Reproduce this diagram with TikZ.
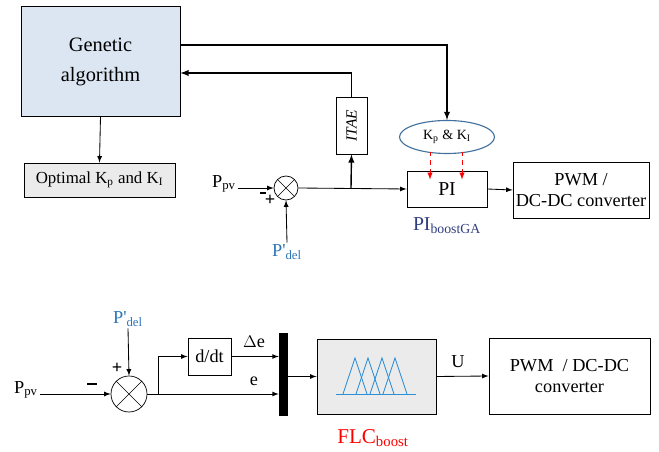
\documentclass[tikz,border=0pt]{standalone}
\usepackage{fontspec}
\setmainfont{Liberation Serif}
\usetikzlibrary{shapes,arrows,positioning,calc}
\definecolor{gafill}{HTML}{DCE6F2}
\definecolor{boxgray}{HTML}{EBEBEB}
\definecolor{ellblue}{HTML}{41719C}
\definecolor{delblue}{HTML}{2E75B6}
\definecolor{pinavy}{HTML}{2F3E7E}
\definecolor{fuzzblue}{HTML}{2E8FD8}

\begin{document}
\begin{tikzpicture}[
    x=0.025cm, y=-0.025cm,
    blk/.style={rectangle, draw, line width=0.6pt, inner sep=0pt, align=center, font=\fontsize{13}{15}\selectfont},
    sumnode/.style={circle, draw, line width=0.5pt, inner sep=0pt},
    lbl/.style={inner sep=1pt, font=\fontsize{13}{15}\selectfont},
    sign/.style={inner sep=0pt, font=\bfseries\fontsize{13}{13}\selectfont},
    arrow/.style={->, >=latex, line width=0.6pt},
    thickarrow/.style={->, >=latex, line width=1pt},
    gain/.style={->, >=latex, red, dashed, line width=0.7pt}
]
\useasboundingbox (0,0) rectangle (659,452);

% upper diagram: PI tuned by the genetic algorithm
\node[blk, fill=gafill, minimum width=3.975cm, minimum height=2.75cm, font=\fontsize{14.5}{20}\selectfont] (ga) at (100.5,61) {\raisebox{5pt}{\begin{tabular}{@{}c@{}}Genetic\\[1pt]algorithm\end{tabular}}};
\node[blk, fill=boxgray, minimum width=3.775cm, minimum height=0.85cm, font=\fontsize{12}{14}\selectfont] (opt) at (99.5,180) {Optimal K\textsubscript{p} and K\textsubscript{I}};
\node[blk, minimum width=0.775cm, minimum height=1.425cm] (itae) at (351.5,125.5) {\rotatebox{90}{\itshape\fontsize{11}{13}\selectfont ITAE}};
\node[sumnode, minimum size=0.6cm] (s1) at (286,188) {};
\node[blk, minimum width=2cm, minimum height=0.9cm, font=\fontsize{14}{16}\selectfont] (pi) at (447,189) {PI};
\node[ellipse, draw=ellblue, line width=0.8pt, minimum width=2.375cm, minimum height=0.825cm, inner sep=0pt, font=\fontsize{10}{12}\selectfont] (kk) at (447,137) {K\textsubscript{p} \& K\textsubscript{I}};
\node[blk, minimum width=3.4cm, minimum height=1.4cm] (pwm1) at (581,190) {PWM /\\DC-DC converter};
\node[lbl] (ppv1) at (224,184) {P\textsubscript{pv}};
\node[lbl, text=delblue] (pdel1) at (287,252) {P\textquotesingle\textsubscript{del}};
\node[sign] (minus1) at (263,193) {\rule{4pt}{1.2pt}};
\node[sign] (plus1) at (270,200) {+};
\node[lbl, text=pinavy, font=\fontsize{14}{16}\selectfont] (pilbl) at (447,226) {PI\textsubscript{boostGA}};
\coordinate (j1) at (351,188);

\draw (s1.north east) -- (s1.south west) (s1.north west) -- (s1.south east);
\draw[arrow] (ppv1.east |- s1.west) -- (s1.west);
\draw[arrow] (pdel1.north) -- (s1.south);
\draw[arrow] (s1.east) -- (pi.west);
\draw[thickarrow] (j1) -- (itae.south);
\draw[thickarrow] (itae.north) |- ($(ga.east)+(0,12)$);
\draw[thickarrow] ($(ga.east)+(0,-16)$) -| (kk.north);
\draw[arrow] (ga.south) -- (opt.north);
\draw[gain] ($(kk.center)+(-17,15)$) -- ($(pi.north)+(-17,9)$);
\draw[gain] ($(kk.center)+(15,15)$) -- ($(pi.north)+(15,9)$);
\draw[arrow] (pi.east) -- (pwm1.west);

% lower diagram: fuzzy logic controller
\node[sumnode, minimum size=0.9cm] (s2) at (129,394) {};
\node[lbl] (ppv2) at (26,390) {P\textsubscript{pv}};
\node[lbl, text=delblue] (pdel2) at (128,319) {P\textquotesingle\textsubscript{del}};
\node[sign] (minus2) at (92,384) {\rule{7pt}{1.8pt}};
\node[sign] (plus2) at (117,368) {+};
\node[blk, minimum width=1.075cm, minimum height=0.925cm] (ddt) at (209.5,356.5) {d/dt};
\node[rectangle, fill=black, minimum width=0.225cm, minimum height=2.075cm, inner sep=0pt] (bar) at (283.5,374.5) {};
\node[blk, fill=boxgray, minimum width=2.975cm, minimum height=1.875cm] (flc) at (376.5,376.5) {};
\node[blk, minimum width=4.025cm, minimum height=1.9cm] (pwm2) at (569.5,376) {PWM~~/ DC-DC\\converter};
\node[lbl] (de) at (254,342) {$\Delta$e};
\node[lbl] (e) at (254,381) {e};
\node[lbl] (u) at (458,362) {U};
\node[lbl, text=red, font=\fontsize{15}{17}\selectfont] (flclbl) at (373,438) {FLC\textsubscript{boost}};
\coordinate (j2) at (158,394);

\draw (s2.north east) -- (s2.south west) (s2.north west) -- (s2.south east);
\draw[arrow] (ppv2.east |- s2.west) -- (s2.west);
\draw[arrow] (pdel2.south) -- (s2.north);
\draw[arrow] (s2.east) -- (s2.east -| bar.west);
\draw[arrow] (j2) |- (ddt.west);
\draw[arrow] (ddt.east) -- (ddt.east -| bar.west);
\draw[arrow] (bar.east |- flc.west) -- (flc.west);
\draw[arrow] (flc.east) -- (pwm2.west);
% membership functions
\draw[fuzzblue, line width=0.6pt] (336,394) -- (416,394);
\foreach \px in {355,368,382,395}
  \draw[fuzzblue, line width=0.6pt] (\px-12,394) -- (\px,358) -- (\px+12,394);
\end{tikzpicture}
\end{document}
